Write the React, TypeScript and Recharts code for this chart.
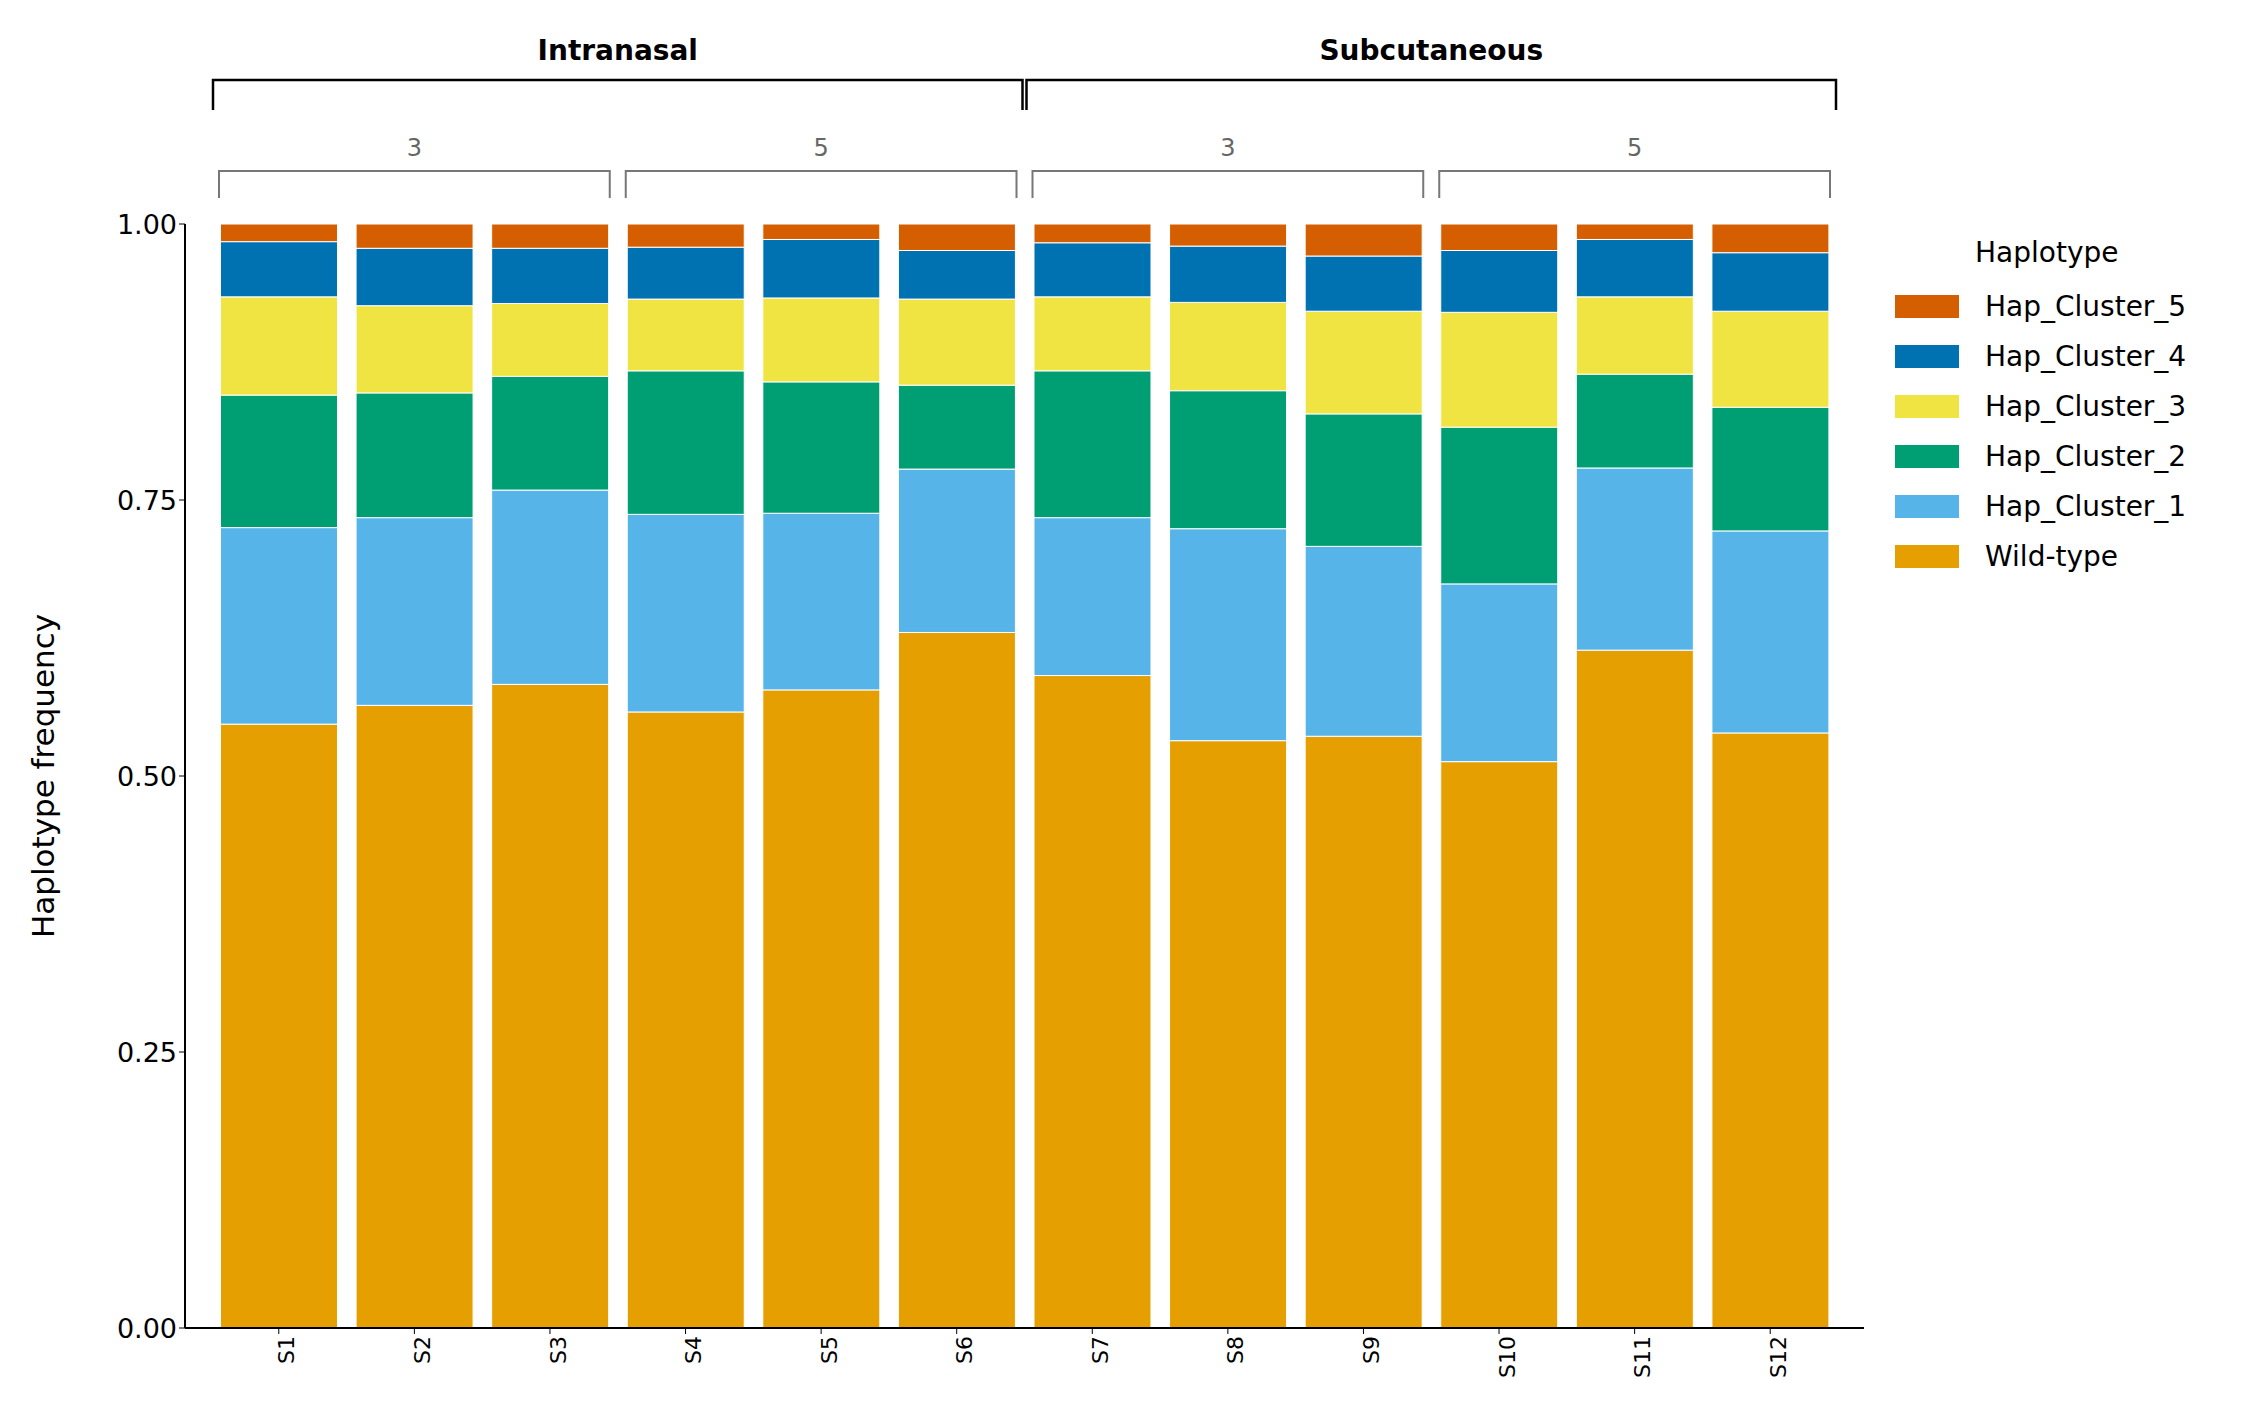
import React from "react";
import { Bar, BarChart, Customized, XAxis, YAxis } from "recharts";

const samples = ["S1", "S2", "S3", "S4", "S5", "S6", "S7", "S8", "S9", "S10", "S11", "S12"];
const series = ["Wild-type", "Hap_Cluster_1", "Hap_Cluster_2", "Hap_Cluster_3", "Hap_Cluster_4", "Hap_Cluster_5"];
const colors = ["#E69F00", "#56B4E9", "#009E73", "#F0E442", "#0072B2", "#D55E00"];

// cumulative top of each segment
const wildTop = [0.547, 0.564, 0.583, 0.558, 0.578, 0.63, 0.591, 0.532, 0.536, 0.513, 0.614, 0.539];
const hc1Top = [0.725, 0.734, 0.759, 0.737, 0.738, 0.778, 0.734, 0.724, 0.708, 0.674, 0.779, 0.722];
const hc2Top = [0.845, 0.847, 0.862, 0.867, 0.857, 0.854, 0.867, 0.849, 0.828, 0.816, 0.864, 0.834];
const hc3Top = [0.934, 0.926, 0.928, 0.932, 0.933, 0.932, 0.934, 0.929, 0.921, 0.92, 0.934, 0.921];
const hc4Top = [0.984, 0.978, 0.978, 0.979, 0.986, 0.976, 0.983, 0.98, 0.971, 0.976, 0.986, 0.974];

const routes = [
  { name: "Intranasal", from: 0, to: 6 },
  { name: "Subcutaneous", from: 6, to: 12 },
];
const doses = [
  { name: "3", from: 0, to: 3 },
  { name: "5", from: 3, to: 6 },
  { name: "3", from: 6, to: 9 },
  { name: "5", from: 9, to: 12 },
];

const data = samples.map((s, i) => {
  const tops = [wildTop[i], hc1Top[i], hc2Top[i], hc3Top[i], hc4Top[i], 1];
  const row: Record<string, any> = { sample: s };
  series.forEach((k, j) => {
    row[k] = +(tops[j] - (j ? tops[j - 1] : 0)).toFixed(4);
  });
  return row;
});

const W = 2249;
const H = 1420;
const TOP = 216;
const AXW = 177;
const PLOT_RIGHT = 1856;
const PAD = 26;
const FONT = "DejaVu Sans, sans-serif";

const bandStart = AXW + PAD;
const band = (PLOT_RIGHT - AXW - 2 * PAD) / samples.length;

function Brackets() {
  const bx = (i: number) => bandStart + band * i;
  return (
    <g fontFamily={FONT}>
      {routes.map((r) => {
        const x1 = bx(r.from) + 2;
        const x2 = bx(r.to) - 2;
        return (
          <g key={r.name}>
            <path d={`M${x1},${102} V${72} H${x2} V${102}`} fill="none" stroke="#000" strokeWidth={2.5} />
            <text x={(x1 + x2) / 2} y={52} textAnchor="middle" fontSize={28} fontWeight="bold">{r.name}</text>
          </g>
        );
      })}
      {doses.map((d, i) => {
        const x1 = bx(d.from) + 8;
        const x2 = bx(d.to) - 8;
        return (
          <g key={i}>
            <path d={`M${x1},${190} V${163} H${x2} V${190}`} fill="none" stroke="#777" strokeWidth={2} />
            <text x={(x1 + x2) / 2} y={148} textAnchor="middle" fontSize={24} fill="#666">{d.name}</text>
          </g>
        );
      })}
    </g>
  );
}

function HapLegend() {
  const items = series.map((s, i) => ({ s, c: colors[i] })).reverse();
  return (
    <div style={{ position: "absolute", top: 228, left: 1887, fontFamily: FONT, fontSize: 28, color: "#000" }}>
      <div style={{ marginLeft: 80, marginBottom: 12 }}>Haplotype</div>
      {items.map((it) => (
        <div key={it.s} style={{ display: "flex", alignItems: "center", height: 50 }}>
          <span style={{ width: 64, height: 23, background: it.c, display: "inline-block", marginRight: 26 }} />
          {it.s}
        </div>
      ))}
    </div>
  );
}

export default function App() {
  return (
    <div style={{ position: "relative", width: W, height: H }}>
      <BarChart
        width={W}
        height={H}
        data={data}
        margin={{ top: TOP, right: W - PLOT_RIGHT, left: 0, bottom: 0 }}
        barCategoryGap="7%"
      >
        <XAxis
          dataKey="sample"
          interval={0}
          padding={{ left: PAD, right: PAD }}
          height={100}
          angle={-90}
          textAnchor="end"
          tickLine={{ stroke: "#000" }}
          axisLine={{ stroke: "#000", strokeWidth: 2 }}
          tick={{ fontSize: 22, fill: "#000", fontFamily: FONT, dy: -8 }}
          tickMargin={10}
        />
        <YAxis
          width={AXW}
          domain={[0, 1]}
          ticks={[0, 0.25, 0.5, 0.75, 1]}
          tickFormatter={(v: number) => v.toFixed(2)}
          tickLine={{ stroke: "#000" }}
          axisLine={{ stroke: "#000", strokeWidth: 2 }}
          tick={{ fontSize: 27, fill: "#000", fontFamily: FONT }}
          label={{ value: "Haplotype frequency", angle: -90, position: "insideLeft", dx: 30, style: { fontSize: 31, fill: "#000", fontFamily: FONT, textAnchor: "middle" } }}
        />
        {series.map((k, i) => (
          <Bar key={k} dataKey={k} stackId="a" fill={colors[i]} stroke="#fff" strokeWidth={1} isAnimationActive={false} />
        ))}
        <Customized component={<Brackets />} />
      </BarChart>
      <HapLegend />
    </div>
  );
}
